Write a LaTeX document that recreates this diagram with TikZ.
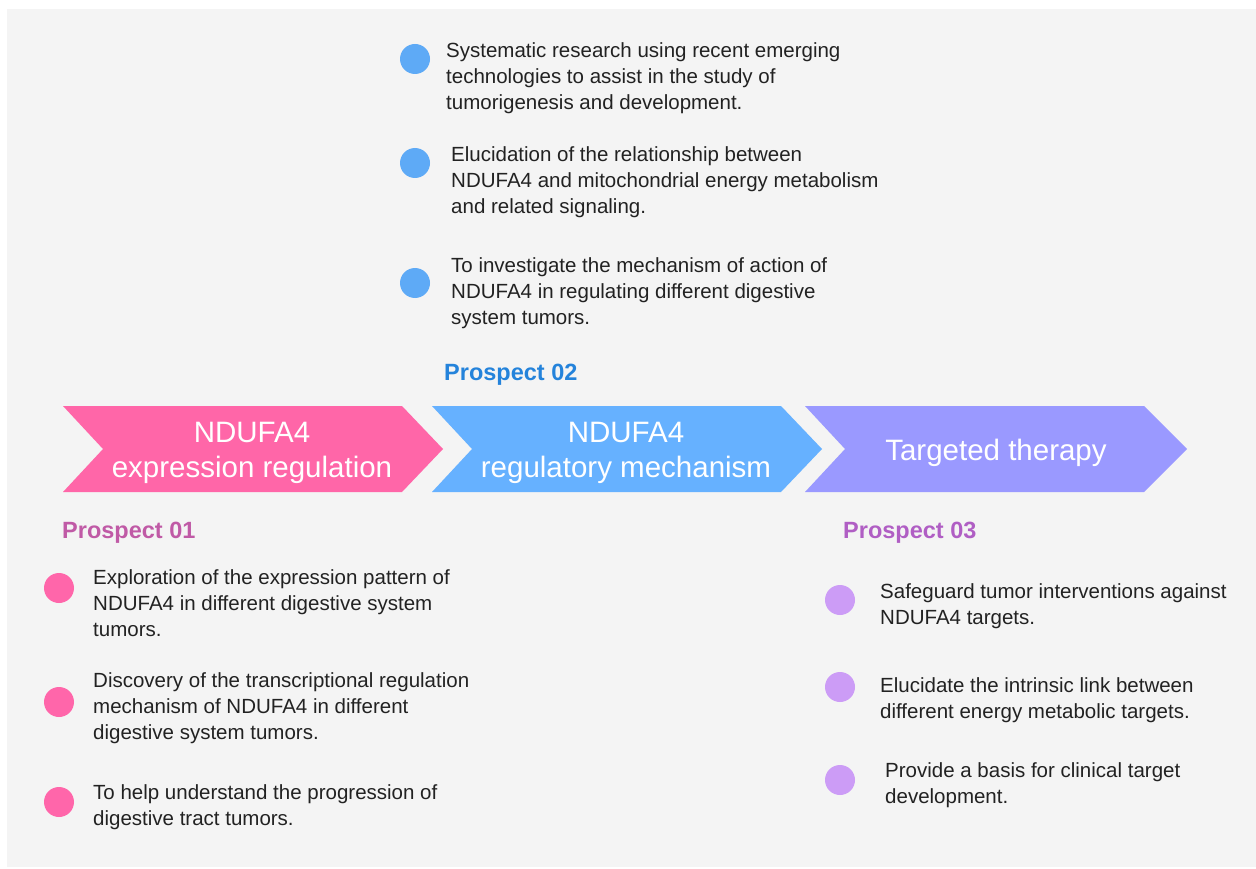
\documentclass[tikz,border=0pt]{standalone}
\usepackage{fontspec}
\setmainfont{Liberation Sans}
\definecolor{panel}{HTML}{F4F4F4}
\definecolor{chevpink}{HTML}{FF66A8}
\definecolor{chevblue}{HTML}{66B1FF}
\definecolor{chevpurp}{HTML}{9A99FF}
\definecolor{dotpink}{HTML}{FF66AA}
\definecolor{dotblue}{HTML}{5EAAF6}
\definecolor{dotpurp}{HTML}{CC9CF6}
\definecolor{headpink}{HTML}{C05AA6}
\definecolor{headblue}{HTML}{2483DB}
\definecolor{headpurp}{HTML}{B05EC4}
\definecolor{bodytext}{HTML}{222222}
\begin{document}
\begin{tikzpicture}[x=1pt,y=-1pt,
  dotnode/.style={circle,minimum size=30pt,inner sep=0pt},
  % multi-line nodes are placed by the baseline of their last line
  bodynode/.style={anchor=base west,inner sep=0pt,align=left,text=bodytext,
    font=\fontsize{20.5}{26}\selectfont},
  headnode/.style={anchor=base west,inner sep=0pt,font=\fontsize{23.5}{26}\selectfont\bfseries},
  chevtext/.style={anchor=base,inner sep=0pt,align=center,text=white,
    font=\fontsize{29.5}{35}\selectfont}]
% page and panel
\useasboundingbox (0,0) rectangle (1256,869);
\fill[white] (0,0) rectangle (1256,869);
\fill[panel] (7,9) rectangle (1256,867);

% process chevrons
\fill[chevpink] (63,406) -- (402,406) -- (443,449) -- (402,492) -- (63,492) -- (103,449) -- cycle;
\fill[chevblue] (432,406) -- (781,406) -- (822,449) -- (781,492) -- (432,492) -- (472,449) -- cycle;
\fill[chevpurp] (805,406) -- (1144,406) -- (1187,449) -- (1144,492) -- (805,492) -- (845,449) -- cycle;
\node[chevtext] (step1) at (252,477) {NDUFA4\\expression regulation};
\node[chevtext] (step2) at (626,477) {NDUFA4\\regulatory mechanism};
\node[chevtext] (step3) at (996,460) {Targeted therapy};

% prospect headings
\node[headnode,text=headblue] (head2) at (444,380) {Prospect 02};
\node[headnode,text=headpink] (head1) at (62,538) {Prospect 01};
\node[headnode,text=headpurp] (head3) at (843,538) {Prospect 03};

% prospect 02 items
\node[dotnode,fill=dotblue] (b21) at (415,59) {};
\node[dotnode,fill=dotblue] (b22) at (415,163) {};
\node[dotnode,fill=dotblue] (b23) at (415,283) {};
\node[bodynode] (t21) at (446,110) {Systematic research using recent emerging\\technologies to assist in the study of\\tumorigenesis and development.};
\node[bodynode] (t22) at (451,214) {Elucidation of the relationship between\\NDUFA4 and mitochondrial energy metabolism\\and related signaling.};
\node[bodynode] (t23) at (451,324) {To investigate the mechanism of action of\\NDUFA4 in regulating different digestive\\system tumors.};

% prospect 01 items
\node[dotnode,fill=dotpink] (b11) at (59,588) {};
\node[dotnode,fill=dotpink] (b12) at (59,702) {};
\node[dotnode,fill=dotpink] (b13) at (59,802) {};
\node[bodynode] (t11) at (93,636) {Exploration of the expression pattern of\\NDUFA4 in different digestive system\\tumors.};
\node[bodynode] (t12) at (93,739) {Discovery of the transcriptional regulation\\mechanism of NDUFA4 in different\\digestive system tumors.};
\node[bodynode] (t13) at (93,825) {To help understand the progression of\\digestive tract tumors.};

% prospect 03 items
\node[dotnode,fill=dotpurp] (b31) at (840,600) {};
\node[dotnode,fill=dotpurp] (b32) at (840,687) {};
\node[dotnode,fill=dotpurp] (b33) at (840,780) {};
\node[bodynode] (t31) at (880,624) {Safeguard tumor interventions against\\NDUFA4 targets.};
\node[bodynode] (t32) at (880,718) {Elucidate the intrinsic link between\\different energy metabolic targets.};
\node[bodynode] (t33) at (885,803) {Provide a basis for clinical target\\development.};
\end{tikzpicture}
\end{document}
